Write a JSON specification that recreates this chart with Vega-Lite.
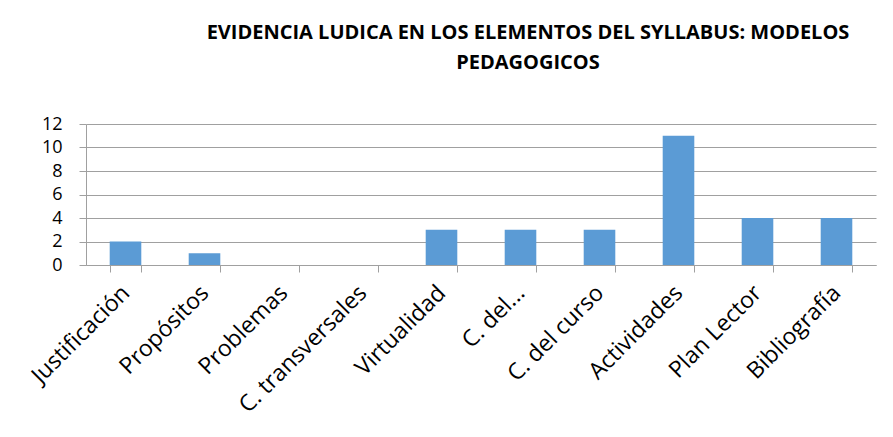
{
  "$schema": "https://vega.github.io/schema/vega-lite/v6.json",
  "width": 790,
  "height": 141,
  "autosize": {"type": "none"},
  "padding": {"left": 86, "top": 124, "right": 17, "bottom": 172},
  "background": "white",
  "title": {
    "text": ["EVIDENCIA LUDICA EN LOS ELEMENTOS DEL SYLLABUS: MODELOS", "PEDAGOGICOS"],
    "font": "Open Sans",
    "fontSize": 20,
    "fontWeight": "bold",
    "color": "#000000",
    "anchor": "middle",
    "dx": 47,
    "offset": 42,
    "lineHeight": 30
  },
  "data": {
    "values": [
      {"elemento": "Justificación", "valor": 2},
      {"elemento": "Propósitos", "valor": 1},
      {"elemento": "Problemas", "valor": 0},
      {"elemento": "C. transversales", "valor": 0},
      {"elemento": "Virtualidad", "valor": 3},
      {"elemento": "C. del...", "valor": 3},
      {"elemento": "C. del curso", "valor": 3},
      {"elemento": "Actividades", "valor": 11},
      {"elemento": "Plan Lector", "valor": 4},
      {"elemento": "Bibliografía", "valor": 4}
    ]
  },
  "mark": {"type": "bar", "color": "#5B9BD5"},
  "encoding": {
    "x": {
      "field": "elemento",
      "type": "nominal",
      "sort": null,
      "scale": {"paddingInner": 0.6, "paddingOuter": 0.3},
      "axis": {
        "title": null,
        "labelAngle": -45,
        "labelAlign": "right",
        "labelBaseline": "middle",
        "labelFont": "Open Sans",
        "labelFontSize": 23,
        "labelColor": "#000000",
        "labelPadding": 17,
        "tickBand": "extent",
        "tickSize": 7,
        "tickColor": "#A0A0A0",
        "domainColor": "#A0A0A0",
        "labelLimit": 300
      }
    },
    "y": {
      "field": "valor",
      "type": "quantitative",
      "scale": {"domain": [0, 12], "nice": false},
      "axis": {
        "title": null,
        "values": [0, 2, 4, 6, 8, 10, 12],
        "labelFont": "Open Sans",
        "labelFontSize": 18,
        "labelColor": "#000000",
        "labelPadding": 17,
        "tickSize": 7,
        "tickColor": "#A0A0A0",
        "domainColor": "#A0A0A0",
        "gridColor": "#A0A0A0",
        "gridWidth": 1.2
      }
    }
  },
  "config": {"view": {"stroke": null}}
}
